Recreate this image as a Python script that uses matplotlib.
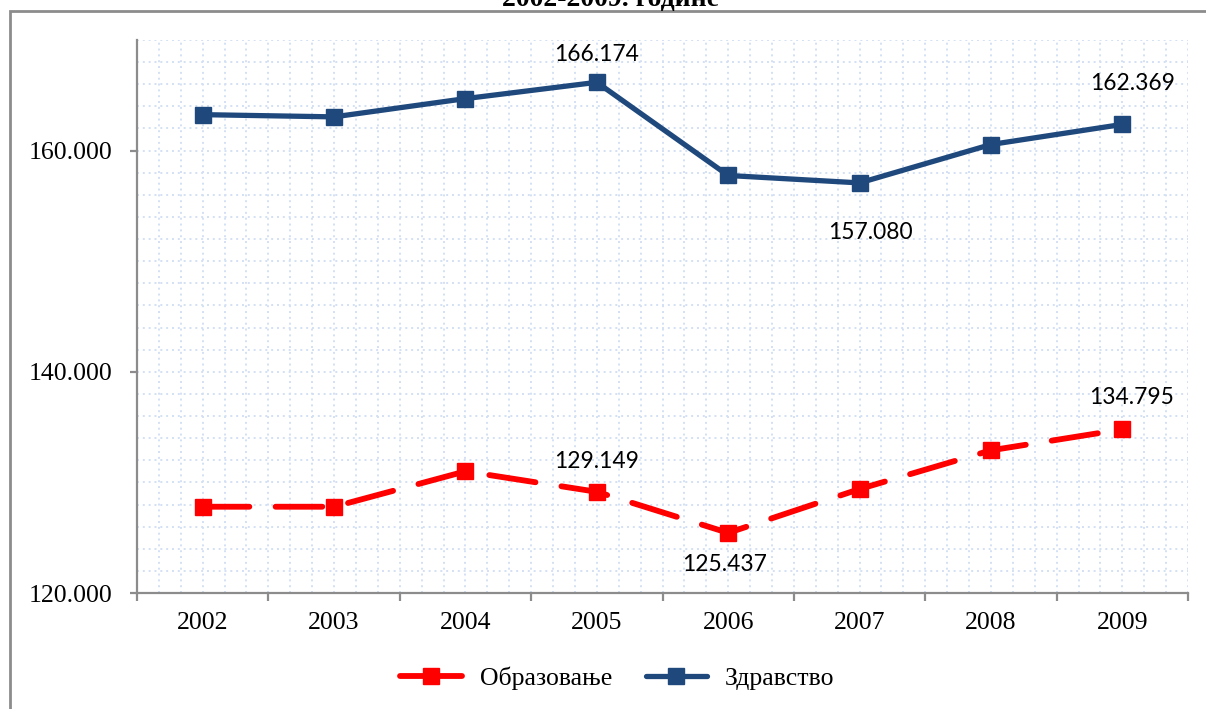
import numpy as np
import matplotlib
matplotlib.use("Agg")
import matplotlib.pyplot as plt
from matplotlib.lines import Line2D
from matplotlib.patches import Rectangle

years = ["2002", "2003", "2004", "2005", "2006", "2007", "2008", "2009"]
obrazovanje = [127800, 127800, 131000, 129149, 125437, 129400, 132900, 134795]
zdravstvo = [163250, 163050, 164700, 166174, 157750, 157080, 160550, 162369]

# which points get a value label: index -> (dx px, dy px)
labels_obr = {3: (0, 30), 4: (-4, -32), 7: (9, 32)}
labels_zdr = {3: (0, 28), 5: (11, -50), 7: (10, 41)}

RED = "#FF0000"
BLUE = "#1F497D"
GRID = "#D3E0F3"
AXC = "#8C8C8C"

fig = plt.figure(figsize=(12.06, 7.09), dpi=100)
ax = fig.add_axes([137 / 1206, 1 - 593 / 709, (1188 - 137) / 1206, (593 - 40) / 709])

x = np.arange(len(years))
ax.set_xlim(-0.5, len(years) - 0.5)
ax.set_ylim(120000, 170000)

# dotted grid, every 2.000 on y and 1/6 of a category on x
for yv in np.arange(122000, 170001, 2000):
    ax.axhline(yv, color=GRID, lw=1.4, ls=(0, (1, 2)), zorder=0)
for xv in np.arange(-0.5 + 1 / 6, len(years) - 0.5 + 1e-6, 1 / 6):
    ax.axvline(xv, color=GRID, lw=1.4, ls=(0, (1, 2)), zorder=0)

ax.plot(x, obrazovanje, color=RED, lw=4.2, ls=(0, (8, 4.5)), dash_capstyle="round",
        marker="s", ms=11, zorder=3)
ax.plot(x, zdravstvo, color=BLUE, lw=3.8, marker="s", ms=11, zorder=3)

lab_font = dict(family="Lato", fontsize=16.4, color="black")
for i, (dx, dy) in labels_obr.items():
    ax.annotate(f"{obrazovanje[i] / 1000:.3f}", (x[i], obrazovanje[i]),
                xytext=(dx * 0.72, dy * 0.72), textcoords="offset points",
                ha="center", va="center", **lab_font)
for i, (dx, dy) in labels_zdr.items():
    ax.annotate(f"{zdravstvo[i] / 1000:.3f}", (x[i], zdravstvo[i]),
                xytext=(dx * 0.72, dy * 0.72), textcoords="offset points",
                ha="center", va="center", **lab_font)

for s in ["top", "right"]:
    ax.spines[s].set_visible(False)
for s in ["left", "bottom"]:
    ax.spines[s].set_color(AXC)
    ax.spines[s].set_linewidth(1.6)

serif = "Liberation Serif"
ax.set_yticks([120000, 140000, 160000])
ax.set_yticklabels(["120.000", "140.000", "160.000"], family=serif, fontsize=18.5)
ax.tick_params(axis="y", length=5, width=1.6, color=AXC, pad=13)

ax.set_xticks(np.arange(-0.5, len(years), 1))
ax.set_xticklabels([])
ax.set_xticks(x, minor=True)
ax.set_xticklabels(years, minor=True, family=serif, fontsize=18.5)
ax.tick_params(axis="x", which="major", length=6, width=1.6, color=AXC, direction="out")
ax.tick_params(axis="x", which="minor", length=0, pad=14)

handles = [Line2D([], [], color=RED, lw=4.2, marker="s", ms=11, solid_capstyle="round"),
           Line2D([], [], color=BLUE, lw=3.8, marker="s", ms=11, solid_capstyle="round")]
fig.legend(handles, ["Образовање", "Здравство"], loc="center", ncol=2,
           bbox_to_anchor=(0.512, 1 - 678 / 709), frameon=False,
           prop=dict(family=serif, size=18.5), handlelength=2.4,
           handletextpad=0.7, columnspacing=1.3)

# chart frame and title, cut by the top edge as in the source image
fig.patches.append(Rectangle((10 / 1206, -0.05), 1.2, 1 - 11 / 709 + 0.05,
                             transform=fig.transFigure, fill=False,
                             edgecolor=AXC, lw=2))
fig.text(611 / 1206, 1 - 6 / 709, "2002-2009. године", ha="center", va="baseline",
         family=serif, fontsize=20, fontweight="bold")

fig.savefig("out.png", dpi=100)
